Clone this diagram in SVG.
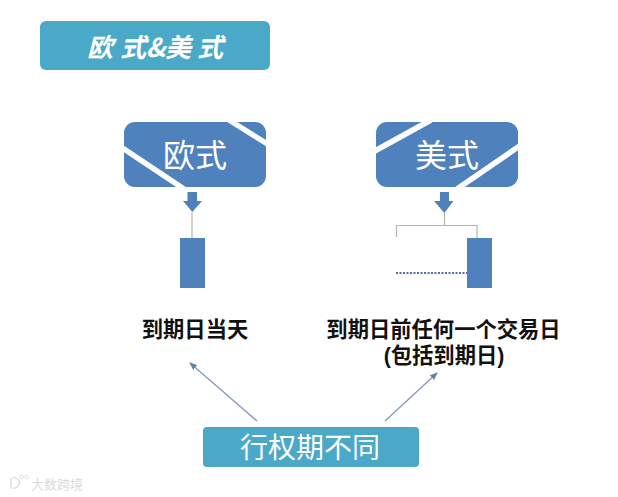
<svg xmlns="http://www.w3.org/2000/svg" width="618" height="497" viewBox="0 0 618 497">
<style>
.teal{fill:#4aa8c8}
.blue{fill:#4f81bd}
.cut{stroke:#fff;stroke-width:5.500;fill:none}
.thin{stroke:#b5b5b5;stroke-width:1.2;fill:none}
.lbl{font-family:"Liberation Sans","Noto Sans CJK SC",sans-serif;font-size:21.300px;font-weight:700;fill:#111;text-anchor:middle}
.wt{font-family:"Noto Sans CJK SC",sans-serif;fill:#fff;text-anchor:middle}
.conn{stroke:#7f97b8;stroke-width:1.2;fill:none;marker-end:url(#ah)}
</style>
<defs>
<marker id="ah" markerUnits="userSpaceOnUse" markerWidth="8" markerHeight="8" refX="7" refY="4" orient="auto"><path d="M0 0.8L8 4L0 7.2Z" fill="#5f82ad"/></marker>
</defs>
<rect width="618" height="497" fill="#fff"/>
<g id="title">
<rect class="teal" x="40" y="21" width="230" height="49" rx="6"/>
<text class="wt" style="text-anchor:start" x="87 113 120 146 165 191 197" y="57" font-size="26" font-weight="700" font-style="italic">欧 式&amp;美 式</text>
</g>
<g id="euro">
<rect class="blue" x="124" y="122" width="142" height="65" rx="11"/>
<path class="cut" d="M229 120L269 145M121 147L184 189"/>
<text class="wt" x="195" y="167" font-size="32">欧式</text>
</g>
<g id="american">
<rect class="blue" x="376" y="122" width="142" height="65" rx="11"/>
<path class="cut" d="M431 120L373 152M521 145L457 189"/>
<text class="wt" x="447" y="167" font-size="32">美式</text>
</g>
<g id="euro-timeline">
<path class="blue" d="M187.500 192H197V201H202L192.300 212L183 201H187.500Z"/>
<path class="thin" d="M192 212V238"/>
<rect class="blue" x="180" y="238" width="25" height="50"/>
</g>
<g id="american-timeline">
<path class="blue" d="M440 192H449V201H453.500L444.300 213L434 201H440Z"/>
<path class="thin" d="M444.500 213V225.500M396.500 237V225.500H477V238"/>
<path d="M396 273H467" stroke="#4f6fa5" stroke-width="2" stroke-dasharray="2 1.500" fill="none"/>
<rect class="blue" x="467" y="238" width="25" height="50"/>
</g>
<g id="label-euro"><text class="lbl" x="195" y="337">到期日当天</text></g>
<g id="label-american"><text class="lbl" x="443.500" y="337">到期日前任何一个交易日</text><text class="lbl" x="444" y="363">(包括到期日)</text></g>
<g id="connectors">
<path class="conn" d="M257 421L190 363"/>
<path class="conn" d="M385 421L437 373"/>
</g>
<g id="diff">
<rect class="teal" x="203" y="427" width="216" height="40" rx="4"/>
<text class="wt" x="310" y="458" font-size="28">行权期不同</text>
</g>
<g id="watermark" opacity="0.75">
<path d="M11 478V489M13 477Q21 479 19 484Q17 489 13 488" fill="none" stroke="#d4d4d4" stroke-width="1.500"/>
<circle cx="21.500" cy="477" r="1.800" fill="none" stroke="#d4d4d4"/>
<circle cx="26.500" cy="477" r="1.800" fill="none" stroke="#d4d4d4"/>
<text x="31" y="489" font-family="Noto Sans CJK SC,sans-serif" font-size="13" fill="#cfcfcf">大数跨境</text>
</g>
</svg>
